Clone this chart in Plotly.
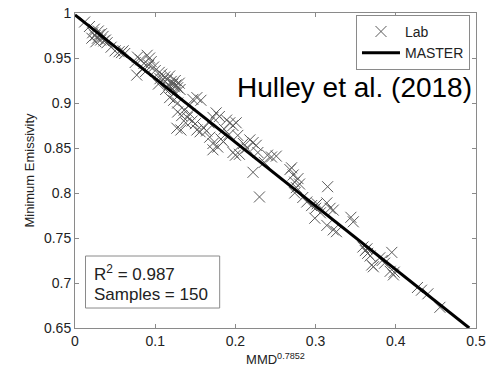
import plotly.graph_objects as go

# Lab samples (MMD^0.7852, minimum emissivity)
lab_x = [0.012, 0.018, 0.022, 0.025, 0.028, 0.030, 0.032, 0.035, 0.026, 0.038, 0.040, 0.021, 0.029, 0.033, 0.024,
         0.045, 0.050, 0.055, 0.058, 0.060, 0.062, 0.036,
         0.075, 0.078, 0.082, 0.086, 0.090, 0.093, 0.095, 0.077, 0.084, 0.088, 0.098, 0.100, 0.092, 0.105,
         0.108, 0.112, 0.115, 0.118, 0.120, 0.122, 0.124, 0.125, 0.126, 0.128, 0.130, 0.131, 0.120, 0.117,
         0.110, 0.125, 0.104, 0.113, 0.118, 0.123, 0.128, 0.106,
         0.128, 0.133, 0.136, 0.140, 0.143, 0.146, 0.147, 0.152, 0.157, 0.127, 0.132, 0.152, 0.156, 0.160,
         0.164, 0.150, 0.138, 0.142,
         0.167, 0.172, 0.176, 0.180, 0.168, 0.172, 0.178, 0.172, 0.182, 0.186, 0.189, 0.193, 0.197, 0.192,
         0.197, 0.200, 0.205, 0.201, 0.203, 0.185,
         0.210, 0.214, 0.218, 0.222, 0.226, 0.222, 0.240, 0.245, 0.251, 0.230, 0.236, 0.228,
         0.268, 0.272, 0.274, 0.278, 0.270, 0.276, 0.280, 0.274, 0.289, 0.295, 0.300, 0.302, 0.299, 0.315,
         0.314, 0.318, 0.322, 0.314, 0.322, 0.326, 0.306, 0.284,
         0.344, 0.347, 0.359, 0.362, 0.365, 0.368, 0.370, 0.372, 0.383, 0.386, 0.395, 0.393, 0.397, 0.398,
         0.380, 0.364,
         0.427, 0.432, 0.455, 0.440]
lab_y = [0.990, 0.985, 0.978, 0.975, 0.972, 0.976, 0.970, 0.974, 0.968, 0.970, 0.967, 0.972, 0.980, 0.977, 0.982,
         0.962, 0.958, 0.957, 0.956, 0.958, 0.955, 0.969,
         0.945, 0.951, 0.948, 0.944, 0.953, 0.950, 0.946, 0.931, 0.938, 0.935, 0.940, 0.936, 0.942, 0.934,
         0.932, 0.929, 0.926, 0.930, 0.924, 0.921, 0.918, 0.925, 0.920, 0.917, 0.922, 0.915, 0.917, 0.920,
         0.926, 0.912, 0.921, 0.915, 0.906, 0.903, 0.900, 0.927,
         0.890, 0.886, 0.892, 0.884, 0.888, 0.880, 0.904, 0.906, 0.903, 0.872, 0.870, 0.870, 0.868, 0.873,
         0.869, 0.877, 0.878, 0.897,
         0.878, 0.884, 0.889, 0.885, 0.862, 0.855, 0.851, 0.848, 0.860, 0.871, 0.881, 0.878, 0.875, 0.865,
         0.845, 0.842, 0.843, 0.878, 0.864, 0.857,
         0.855, 0.850, 0.859, 0.856, 0.853, 0.823, 0.842, 0.840, 0.841, 0.7956, 0.834, 0.845,
         0.826, 0.820, 0.812, 0.816, 0.828, 0.806, 0.810, 0.800, 0.790, 0.786, 0.783, 0.788, 0.772, 0.807,
         0.789, 0.783, 0.781, 0.764, 0.759, 0.757, 0.778, 0.795,
         0.773, 0.768, 0.740, 0.736, 0.733, 0.730, 0.720, 0.718, 0.725, 0.722, 0.734, 0.713, 0.709, 0.712,
         0.728, 0.738,
         0.695, 0.692, 0.673, 0.688]

# MASTER regression line end points
master_x = [0.0, 0.4916]
master_y = [0.998, 0.65]

x_ticks = [0, 0.1, 0.2, 0.3, 0.4, 0.5]
x_tick_labels = ["0", "0.1", "0.2", "0.3", "0.4", "0.5"]
y_ticks = [0.65, 0.7, 0.75, 0.8, 0.85, 0.9, 0.95, 1.0]
y_tick_labels = ["0.65", "0.7", "0.75", "0.8", "0.85", "0.9", "0.95", "1"]

FONT = "Liberation Sans, Arial, sans-serif"

fig = go.Figure()
fig.add_trace(go.Scatter(
    x=lab_x, y=lab_y, mode="markers", name="Lab",
    marker=dict(symbol="x-thin-open", size=11, line=dict(color="#5a5a5a", width=1), color="#5a5a5a"),
))
fig.add_trace(go.Scatter(
    x=master_x, y=master_y, mode="lines", name="MASTER",
    line=dict(color="black", width=3),
))

axis_common = dict(
    showline=True, linecolor="#8a8a8a", linewidth=1, mirror="allticks",
    ticks="inside", ticklen=4, tickcolor="#8a8a8a", showgrid=False, zeroline=False,
    tickfont=dict(family=FONT, size=14, color="#222222"), automargin=False,
)

fig.update_layout(
    width=493, height=367,
    margin=dict(l=75, r=17, t=13, b=39),
    paper_bgcolor="white", plot_bgcolor="white",
    font=dict(family=FONT, color="#222222"),
    xaxis=dict(range=[0, 0.5], tickvals=x_ticks, ticktext=x_tick_labels,
               title=dict(text="MMD<sup>0.7852</sup>", font=dict(family=FONT, size=13), standoff=7),
               **axis_common),
    yaxis=dict(range=[0.65, 1.0], tickvals=y_ticks, ticktext=y_tick_labels,
               title=dict(text="Minimum Emissivity", font=dict(family=FONT, size=13), standoff=6),
               **axis_common),
    legend=dict(x=0.985, y=0.994, xanchor="right", yanchor="top",
                bordercolor="#8a8a8a", borderwidth=1, bgcolor="white",
                font=dict(family=FONT, size=14, color="#222222"),
                tracegroupgap=0, itemwidth=38),
    showlegend=True,
)

fig.add_annotation(x=0.4975, y=0.9167, xref="x", yref="y", xanchor="right", yanchor="middle",
                   text="Hulley et al. (2018)", showarrow=False,
                   font=dict(family=FONT, size=28, color="black"))

fig.add_shape(type="rect", xref="x", yref="y", x0=0.0131, x1=0.1804, y0=0.6722, y1=0.73,
              line=dict(color="#8a8a8a", width=1), fillcolor="white", layer="below")
fig.add_annotation(x=0.0206, y=0.7115, xref="x", yref="y", xanchor="left", yanchor="middle",
                   text="R<sup>2</sup> = 0.987", showarrow=False,
                   font=dict(family=FONT, size=17, color="#222222"))
fig.add_annotation(x=0.0206, y=0.6875, xref="x", yref="y", xanchor="left", yanchor="middle",
                   text="Samples = 150", showarrow=False,
                   font=dict(family=FONT, size=17, color="#222222"))

fig.write_html("out.html", config={"displayModeBar": False},
               post_script="document.body.style.margin='0';document.body.style.overflow='hidden';")
